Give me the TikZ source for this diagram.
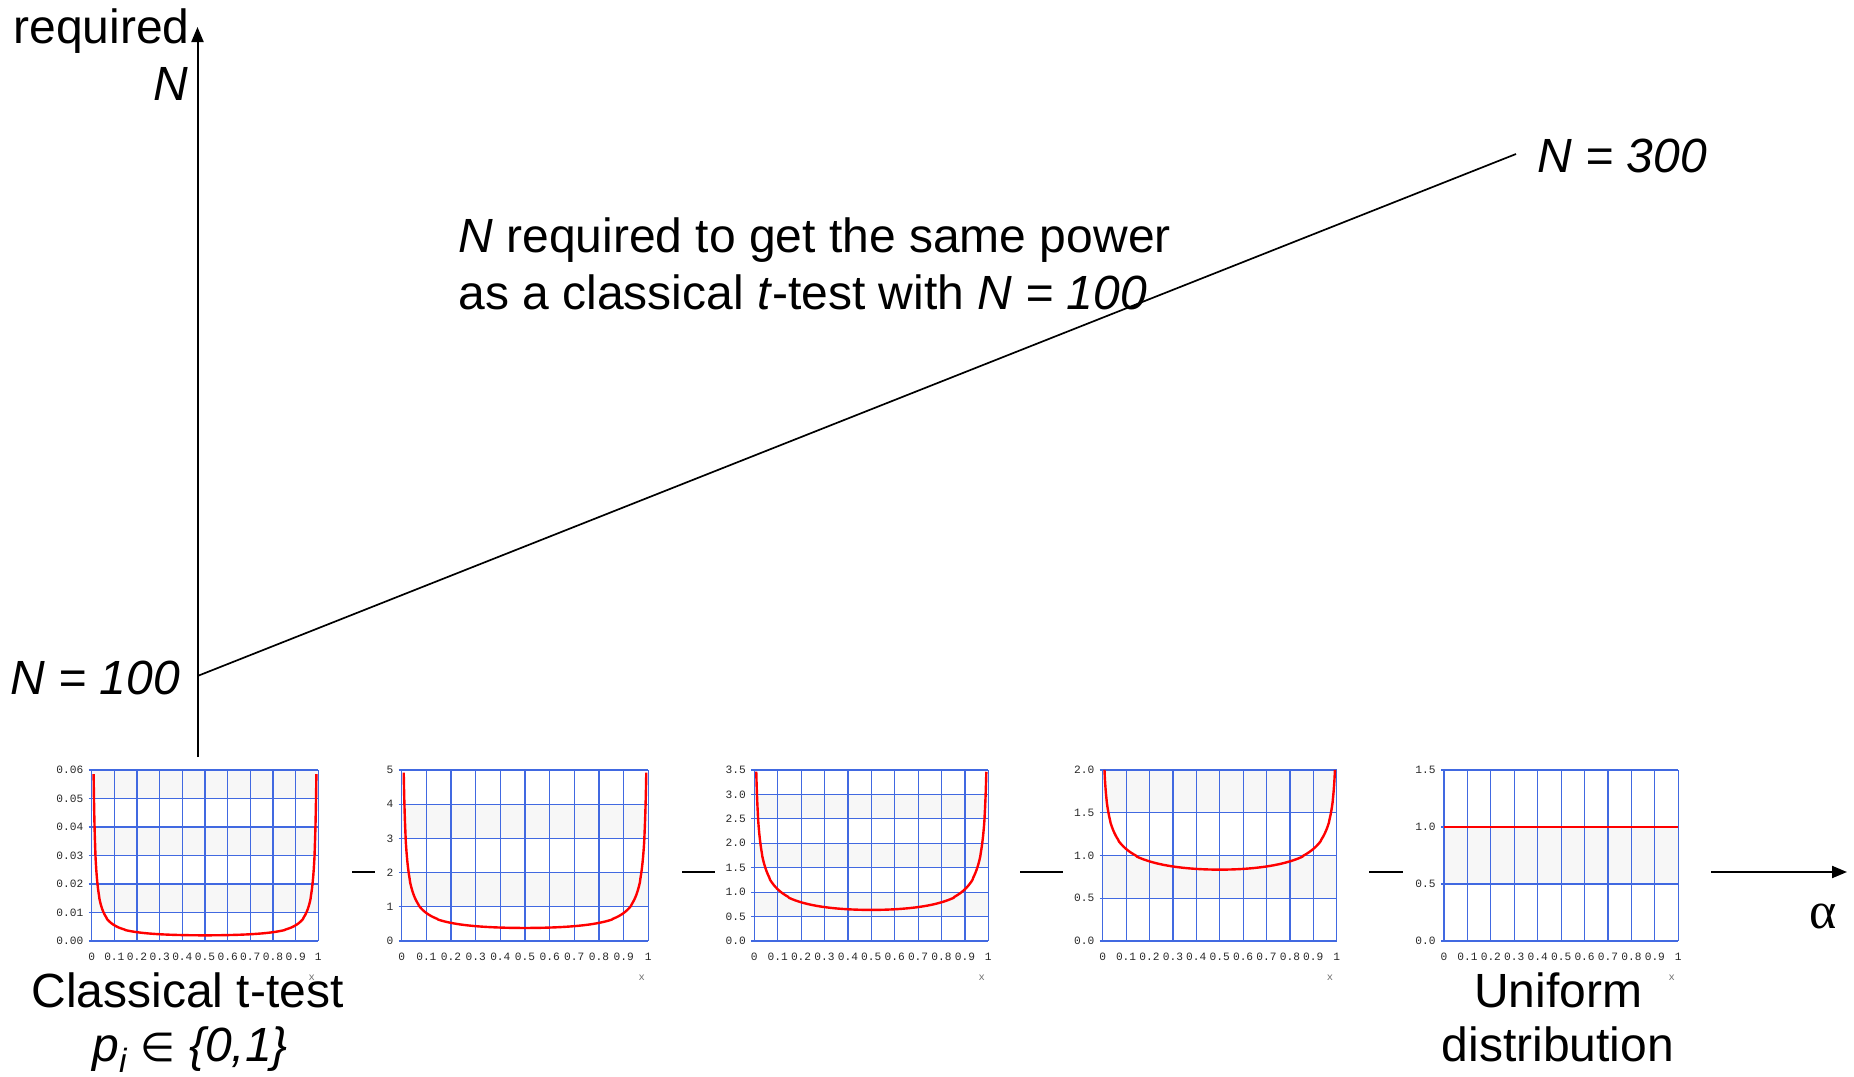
\documentclass[tikz,border=0pt]{standalone}
\usepackage{fontspec}
\setmainfont{Liberation Sans}
\newfontfamily\tickfont{Liberation Mono}
\newfontfamily\greekfont{Liberation Serif}
\newfontfamily\symbfont{DejaVu Sans}
\usetikzlibrary{arrows.meta}
\definecolor{gridblue}{RGB}{65,105,225}
\definecolor{bandgray}{RGB}{247,247,247}
\definecolor{ticktext}{RGB}{40,40,40}
\definecolor{xnamegray}{RGB}{110,110,110}
\tikzset{
  big/.style={inner sep=0pt, font=\fontsize{24}{28}\selectfont},
  ylab/.style={inner sep=0pt, anchor=east, font=\tickfont\fontsize{5.6}{6}\selectfont, text=ticktext},
  xlab/.style={inner sep=0pt, anchor=center, font=\tickfont\fontsize{5.6}{6}\selectfont, text=ticktext},
  xname/.style={inner sep=0pt, anchor=center, font=\tickfont\fontsize{5.2}{6}\selectfont, text=xnamegray},
  gridline/.style={draw=gridblue, line width=0.6pt},
  band/.style={fill=bandgray},
  curve/.style={draw=red, line width=1.2pt},
  axisline/.style={draw=black, line width=1pt},
  diagline/.style={draw=black, line width=0.85pt},
  axisarrow/.style={-{Triangle[width=6pt,length=7.5pt]}}
}
% #1 left x, #2 right x, #3 number of intervals, #4 y labels from bottom
\newcommand\miniplot[4]{%
  \pgfmathsetmacro\pw{#2-#1}%
  \pgfmathsetmacro\ph{171/#3}%
  \pgfmathtruncatemacro\nm{#3-1}%
  \foreach \k in {1,...,\nm}{%
    \pgfmathtruncatemacro\oddk{mod(\k,2)}%
    \ifnum\oddk=1 \fill[band] (#1,{941-\k*\ph}) rectangle (#2,{941-(\k+1)*\ph});\fi
  }%
  \foreach \i in {0,...,#3}{\draw[gridline] ({#1-3},{941-\i*\ph}) -- (#2,{941-\i*\ph});}%
  \foreach \j in {0,...,10}{\draw[gridline] ({#1+\j*\pw/10},770) -- ({#1+\j*\pw/10},941);}%
  \foreach \lab [count=\i from 0] in {#4}{\node[ylab] at ({#1-8},{941-\i*\ph}) {\lab};}%
  \foreach \lab [count=\j from 0] in {0,0.1,0.2,0.3,0.4,0.5,0.6,0.7,0.8,0.9,1}{\node[xlab] at ({#1+\j*\pw/10},957) {\lab};}%
  \node[xname] at ({#2-6.6},978) {x};%
}
\begin{document}
\begin{tikzpicture}[x=0.5pt,y=-0.5pt]
\useasboundingbox (0,0) rectangle (1854,1077);

% mini plots
\miniplot{91.7}{318.3}{6}{0.00,0.01,0.02,0.03,0.04,0.05,0.06}
\miniplot{401.7}{648.3}{5}{0,1,2,3,4,5}
\miniplot{754.3}{988.3}{7}{0.0,0.5,1.0,1.5,2.0,2.5,3.0,3.5}
\miniplot{1102.7}{1336.7}{4}{0.0,0.5,1.0,1.5,2.0}
\miniplot{1444}{1678.3}{3}{0.0,0.5,1.0,1.5}

% density curves
\draw[curve] plot[domain=10.52:169.48, samples=220, variable=\t]
  ({91.7+226.6*(1-cos(\t))/2}, {941-1.425*(sin(\t)*sin(\t)/4)^(-0.999)});
\draw[curve] plot[domain=10.36:169.64, samples=220, variable=\t]
  ({401.7+246.6*(1-cos(\t))/2}, {941-4.6117*(sin(\t)*sin(\t)/4)^(-0.75)});
\draw[curve] plot[domain=10.48:169.52, samples=220, variable=\t]
  ({754.3+234*(1-cos(\t))/2}, {941-15.552*(sin(\t)*sin(\t)/4)^(-0.5)});
\draw[curve] plot[domain=10.03:169.97, samples=220, variable=\t]
  ({1102.7+234*(1-cos(\t))/2}, {941-50.47*(sin(\t)*sin(\t)/4)^(-0.25)});
\coordinate (u0) at (1444,827);
\coordinate (u1) at (1678.3,827);
\draw[curve] (u0) -- (u1);

% axes
\coordinate (ybot) at (197.5,757);
\coordinate (ytop) at (197.5,27);
\draw[axisline, axisarrow] (ybot) -- (ytop);
\coordinate (lstart) at (197.5,676);
\coordinate (lend) at (1516,154);
\draw[diagline] (lstart) -- (lend);
\coordinate (astart) at (1711,872);
\coordinate (aend) at (1847,872);
\draw[axisline, axisarrow] (astart) -- (aend);

% dashes between plots
\coordinate (d1a) at (352,872); \coordinate (d1b) at (375,872);
\coordinate (d2a) at (682,872); \coordinate (d2b) at (715,872);
\coordinate (d3a) at (1020,872); \coordinate (d3b) at (1063,872);
\coordinate (d4a) at (1369,872); \coordinate (d4b) at (1403,872);
\draw[axisline] (d1a) -- (d1b);
\draw[axisline] (d2a) -- (d2b);
\draw[axisline] (d3a) -- (d3b);
\draw[axisline] (d4a) -- (d4b);

% texts
\node[big, anchor=base west] (req) at (13,43) {required};
\node[big, anchor=base east] (nlab) at (189,100) {\itshape N};
\node[big, anchor=base west] (n300) at (1537,172) {\itshape N = 300};
\node[big, anchor=base west] (n100) at (10,694) {\itshape N = 100};
\node[big, anchor=base west] (desc1) at (458,252) {\textit{N} required to get the same power};
\node[big, anchor=base west] (desc2) at (458,309) {as a classical \textit{t}-test with \textit{N = 100}};
\node[big, anchor=base] (classical) at (187.5,1007) {Classical t-test};
\node[big, anchor=base west] (pin) at (92,1061) {\itshape p\raisebox{-0.15ex}{\textsubscript{i}} {\upshape\symbfont\fontsize{20}{24}\selectfont ∈} \{0,1\}};
\node[big, anchor=base] (unif1) at (1558,1007) {Uniform};
\node[big, anchor=base] (unif2) at (1558,1061) {distribution};
\node[inner sep=0pt, anchor=base, font=\greekfont\fontsize{26}{30}\selectfont] (alpha) at (1823,928) {α};
\end{tikzpicture}
\end{document}
